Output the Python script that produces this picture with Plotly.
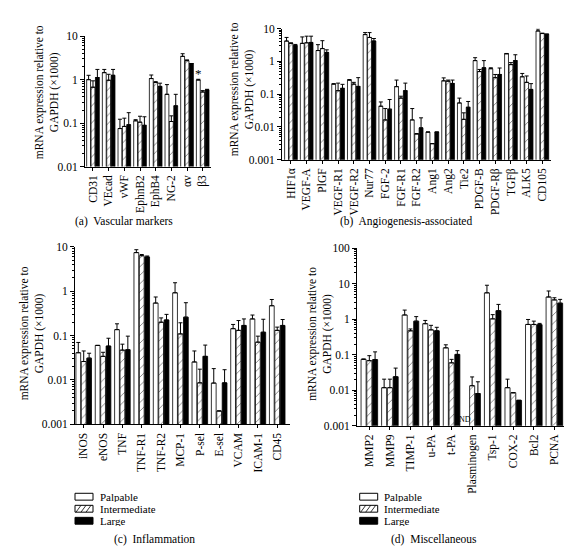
import plotly.graph_objects as go
import math

W, H = 572, 549
FONT = "Liberation Serif"

# ---------------- data ----------------
a_cats = ["CD31", "VEcad", "vWF", "EphnB2", "EphB4", "NG-2", "αv", "β3"]
a_palp = [1.0, 1.45, 0.075, 0.113, 1.06, 0.46, 3.44, 0.98]
a_palp_top = [1.26, 1.72, 0.123, 0.12, 1.28, 0.77, 3.95, 1.02]
a_int = [0.67, 0.97, 0.084, 0.105, 0.86, 0.109, 2.74, 0.52]
a_int_top = [0.94, 1.33, 0.13, 0.144, 0.9, 0.147, 2.85, 0.56]
a_large = [1.12, 1.26, 0.092, 0.089, 0.70, 0.25, 2.35, 0.58]
a_large_top = [1.72, 1.72, 0.174, 0.14, 0.83, 0.46, 2.35, 0.6]

b_cats = ["HIF1α", "VEGF-A", "PlGF", "VEGF-R1", "VEGF-R2", "Nur77", "FGF-2", "FGF-R1",
          "FGF-R2", "Ang1", "Ang2", "Tie2", "PDGF-B", "PDGF-Rβ", "TGFβ", "ALK5", "CD105"]
b_palp = [4.19, 3.56, 2.15, 0.203, 0.268, 6.6, 0.043, 0.17, 0.0164, 0.007, 0.256, 0.054, 1.06, 0.6, 1.71, 0.34, 8.5]
b_palp_top = [5.4, 5.6, 3.25, 0.21, 0.28, 7.6, 0.058, 0.27, 0.0365, 0.007, 0.315, 0.076, 1.3, 0.64, 1.75, 0.43, 9.8]
b_int = [3.56, 3.7, 2.47, 0.128, 0.203, 5.4, 0.0164, 0.076, 0.0061, 0.0031, 0.25, 0.0171, 0.49, 0.32, 0.80, 0.23, 7.1]
b_int_top = [3.7, 5.9, 4.3, 0.218, 0.23, 7.6, 0.0365, 0.087, 0.0063, 0.0031, 0.27, 0.027, 0.57, 0.40, 0.92, 0.36, 7.3]
b_large = [3.04, 3.8, 1.88, 0.151, 0.173, 4.2, 0.035, 0.128, 0.0094, 0.007, 0.213, 0.040, 0.64, 0.40, 1.06, 0.14, 6.8]
b_large_top = [3.3, 5.9, 2.26, 0.2, 0.32, 5.0, 0.069, 0.218, 0.019, 0.007, 0.27, 0.06, 1.06, 0.63, 1.6, 0.21, 6.8]

c_cats = ["iNOS", "eNOS", "TNF", "TNF-R1", "TNF-R2", "MCP-1", "P-sel", "E-sel", "VCAM", "ICAM-1", "CD45"]
c_palp = [0.041, 0.060, 0.136, 7.4, 0.54, 0.92, 0.0254, 0.0085, 0.143, 0.237, 0.47]
c_palp_top = [0.070, 0.060, 0.184, 8.6, 0.74, 1.55, 0.045, 0.018, 0.178, 0.29, 0.65]
c_int = [0.026, 0.034, 0.047, 6.3, 0.2, 0.109, 0.0086, 0.002, 0.131, 0.071, 0.131]
c_int_top = [0.045, 0.042, 0.064, 6.7, 0.25, 0.194, 0.0175, 0.002, 0.218, 0.097, 0.155]
c_large = [0.031, 0.058, 0.048, 5.9, 0.225, 0.26, 0.034, 0.0086, 0.169, 0.119, 0.169]
c_large_top = [0.04, 0.087, 0.097, 6.2, 0.30, 0.55, 0.061, 0.017, 0.237, 0.233, 0.23]

d_cats = ["MMP2", "MMP9", "TIMP-1", "u-PA", "t-PA", "Plasminogen", "Tsp-1", "COX-2", "Bcl2", "PCNA"]
d_palp = [0.074, 0.0118, 1.31, 0.745, 0.156, None, 5.5, 0.0118, 0.71, 4.2]
d_palp_top = [0.076, 0.0205, 1.8, 0.92, 0.19, None, 9.0, 0.0205, 0.98, 6.2]
d_int = [0.068, 0.0118, 0.47, 0.50, 0.059, 0.0134, 1.02, 0.0085, 0.71, 3.48]
d_int_top = [0.094, 0.0205, 0.53, 0.67, 0.074, 0.0237, 1.34, 0.0085, 0.88, 4.0]
d_large = [0.073, 0.024, 0.88, 0.47, 0.102, 0.0081, 1.73, 0.0052, 0.70, 2.82]
d_large_top = [0.12, 0.042, 1.18, 0.59, 0.13, 0.0173, 2.6, 0.0052, 0.76, 3.6]

series_names = ["Palpable", "Intermediate", "Large"]
captions = ["(a)  Vascular markers", "(b)  Angiogenesis-associated", "(c)  Inflammation", "(d)  Miscellaneous"]
ylabel = "mRNA expression relative to<br>GAPDH (×1000)"


def px(x):
    return x / W


def py(y):
    return 1 - y / H


panels = [
    dict(cats=a_cats, vals=[(a_palp, a_palp_top), (a_int, a_int_top), (a_large, a_large_top)],
         xdom=(77, 203), ydom=(156, 22.7), yr=(-2, 1), xr=(-0.51, 7.53),
         ylab=(39, 80), cap=(116, 212)),
    dict(cats=b_cats, vals=[(b_palp, b_palp_top), (b_int, b_int_top), (b_large, b_large_top)],
         xdom=(274, 543), ydom=(149, 15), yr=(-3, 1), xr=(-0.57, 16.55),
         ylab=(234, 77), cap=(398, 212)),
    dict(cats=c_cats, vals=[(c_palp, c_palp_top), (c_int, c_int_top), (c_large, c_large_top)],
         xdom=(67, 282), ydom=(419.5, 238), yr=(-3, 1), xr=(-0.45, 10.66),
         ylab=(23.5, 327), cap=(146, 537)),
    dict(cats=d_cats, vals=[(d_palp, d_palp_top), (d_int, d_int_top), (d_large, d_large_top)],
         xdom=(349, 569), ydom=(421, 239.3), yr=(-3, 2), xr=(-0.6, 10.1),
         ylab=(312, 327), cap=(426, 537)),
]

fig = go.Figure()
layout = dict(width=W, height=H, margin=dict(l=0, r=0, t=0, b=0),
              paper_bgcolor="white", plot_bgcolor="white", showlegend=False,
              barmode="group", bargap=0.16, bargroupgap=0.12,
              font=dict(family=FONT, size=11, color="black"))

styles = [
    dict(color="white"),
    dict(color="white", pattern=dict(shape="/", bgcolor="white", fgcolor="black", size=6, solidity=0.15)),
    dict(color="black"),
]

annotations = []
shapes = []

for i, p in enumerate(panels):
    n = "" if i == 0 else str(i + 1)
    xa, ya = "x" + n, "y" + n
    for s, (vals, tops) in enumerate(p["vals"]):
        err = [(t - v) if (v is not None and t is not None) else 0 for v, t in zip(vals, tops)]
        fig.add_trace(go.Bar(
            x=p["cats"], y=vals, name=series_names[s], xaxis=xa, yaxis=ya,
            marker=dict(line=dict(color="black", width=0.8), **styles[s]),
            error_y=dict(type="data", array=err, arrayminus=[0] * len(err), symmetric=False,
                         color="black", thickness=1, width=2),
        ))
    lo, hi = p["yr"]
    major = [10 ** k for k in range(lo, hi + 1)]
    major_txt = [("%g" % v) for v in major]
    minor = [m * 10 ** k for k in range(lo, hi) for m in range(2, 10)]
    layout["xaxis" + n] = dict(
        domain=[px(p["xdom"][0]), px(p["xdom"][1])], anchor=ya, type="category",
        range=list(p["xr"]), tickangle=-90, ticks="outside", ticklen=3, tickcolor="black",
        showline=True, linecolor="black", linewidth=1, showgrid=False, zeroline=False,
        tickfont=dict(family=FONT, size=11.5, color="black"))
    layout["yaxis" + n] = dict(
        domain=[py(p["ydom"][0]), py(p["ydom"][1])], anchor=xa, type="log",
        range=[lo, hi], tickmode="array", tickvals=major, ticktext=major_txt,
        ticks="outside", ticklen=4, tickcolor="black",
        minor=dict(tickmode="array", tickvals=minor, ticks="outside", ticklen=2, tickcolor="black"),
        showline=True, linecolor="black", linewidth=1, showgrid=False, zeroline=False,
        tickfont=dict(family=FONT, size=11.5, color="black"))
    annotations.append(dict(text=ylabel, xref="paper", yref="paper", x=px(p["ylab"][0]), y=py(p["ylab"][1]),
                            textangle=-90, showarrow=False, xanchor="center", yanchor="middle",
                            font=dict(family=FONT, size=11.5, color="black")))
    annotations.append(dict(text=captions[i], xref="paper", yref="paper",
                            x=px(p["cap"][0]), y=py(p["cap"][1]), showarrow=False,
                            xanchor="center", yanchor="middle",
                            font=dict(family=FONT, size=11.5, color="black")))

# asterisk above beta3 palpable
annotations.append(dict(text="*", x="β3", y=math.log10(a_palp_top[-1]), xref="x", yref="y",
                        showarrow=False, xshift=-4.5, yanchor="bottom", yshift=-4,
                        font=dict(family=FONT, size=13, color="black")))
# ND for plasminogen palpable
annotations.append(dict(text="ND", x="Plasminogen", y=-3, xref="x4", yref="y4",
                        showarrow=False, xshift=-7, yanchor="bottom", yshift=0,
                        font=dict(family=FONT, size=8, color="black")))

# manual legends
for lx in (67, 351.7):
    rows = [490.0, 502.3, 514.6]
    for k, (name, ry) in enumerate(zip(series_names, rows)):
        x0, x1, y0, y1 = lx, lx + 18, ry, ry + 7
        shapes.append(dict(type="rect", xref="paper", yref="paper", x0=px(x0), x1=px(x1),
                           y0=py(y1), y1=py(y0), line=dict(color="black", width=1),
                           fillcolor="black" if k == 2 else "white"))
        if k == 1:
            path = ""
            for off in (2, 7, 12):
                path += "M%f,%f L%f,%f " % (px(x0 + off - 1), py(y1), px(x0 + off + 4), py(y0))
            shapes.append(dict(type="path", xref="paper", yref="paper", path=path,
                               line=dict(color="black", width=0.8)))
        annotations.append(dict(text=name, xref="paper", yref="paper", x=px(x1 + 5.5), y=py(ry + 3.5),
                                showarrow=False, xanchor="left", yanchor="middle", height=10,
                                borderpad=0, font=dict(family=FONT, size=11, color="black")))

layout["annotations"] = annotations
layout["shapes"] = shapes
fig.update_layout(**layout)
fig.write_html("out.html")
